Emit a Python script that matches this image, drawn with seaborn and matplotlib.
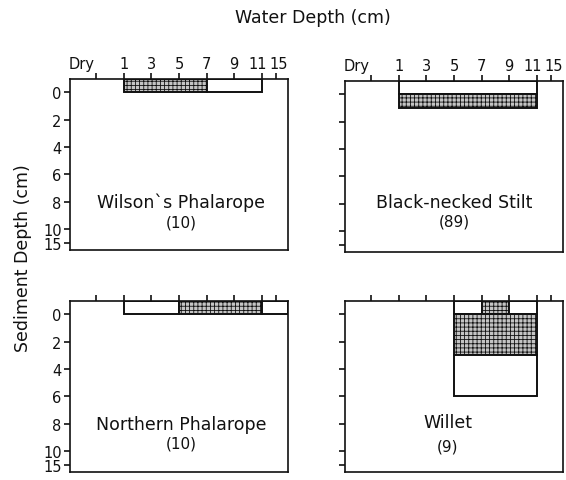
import matplotlib
matplotlib.use("Agg")
import matplotlib.pyplot as plt
from matplotlib.transforms import ScaledTranslation
import seaborn as sns

sns.set_theme(style="white")
plt.rcParams["font.family"] = ["DejaVu Sans"]
plt.rcParams["hatch.linewidth"] = 0.6

# ---- data ----
water_depths = ["Dry", "1", "3", "5", "7", "9", "11", "15"]
sediment_depths = ["0", "2", "4", "6", "8", "10", "15"]
species = ["Wilson`s Phalarope", "Black-necked Stilt", "Northern Phalarope", "Willet"]
sample_sizes = [10, 89, 10, 9]

# boxes: (water depth from, water depth to, sediment depth top, sediment depth bottom, shaded)
# None for sediment top = water column above sediment surface; None for water "to" = beyond 15
wilson_boxes = [("1", "7", None, 0, True), ("7", "11", None, 0, False)]
stilt_boxes = [("1", "11", None, 0, False), ("1", "11", 0, 1, True)]
northern_boxes = [("1", "5", None, 0, False), ("5", "11", None, 0, True), ("11", None, None, 0, False)]
willet_boxes = [("5", "7", None, 0, False), ("7", "9", None, 0, True), ("9", "11", None, 0, False),
                ("5", "11", 0, 3, True), ("5", "11", 3, 6, False)]
all_boxes = [wilson_boxes, stilt_boxes, northern_boxes, willet_boxes]

# ---- layout ----
x_pos = {lab: i for i, lab in enumerate(water_depths[:-1])}
x_pos["15"] = 6.5
y_pos = {"0": 0, "2": 2, "4": 4, "6": 6, "8": 8, "10": 10, "15": 11}
XLIM = (-0.95, 6.95)
YLIM = (11.5, -0.95)
label_shift_px = {"Dry": -15, "11": -4, "15": 3}
name_xy = [(0.51, 0.28), (0.50, 0.29), (0.51, 0.28), (0.47, 0.29)]
count_xy = [(0.51, 0.165), (0.50, 0.18), (0.51, 0.17), (0.47, 0.15)]

W, H = 566, 481
fig = plt.figure(figsize=(W / 100, H / 100), dpi=100)
panel_px = [(70, 80), (345, 82), (70, 302), (345, 302)]
pw, ph = 218, 171

ink = "#111111"
for k, (sp, n, boxes) in enumerate(zip(species, sample_sizes, all_boxes)):
    x0, top = panel_px[k]
    ax = fig.add_axes([x0 / W, (H - top - ph) / H, pw / W, ph / H])
    ax.set_xlim(*XLIM)
    ax.set_ylim(*YLIM)
    for s in ax.spines.values():
        s.set_visible(True)
        s.set_color(ink)
        s.set_linewidth(1.2)
    ax.xaxis.tick_top()
    ax.set_xticks([x_pos[w] for w in water_depths])
    ax.set_yticks([y_pos[d] for d in sediment_depths])
    ax.tick_params(axis="both", direction="out", length=4, width=1.2, color=ink,
                   labelsize=10.5, labelcolor=ink, pad=2)
    ax.tick_params(axis="x", top=True, bottom=False)
    ax.tick_params(axis="y", left=True, right=False)
    if k < 2:
        ax.set_xticklabels(water_depths)
        for lab in ax.get_xticklabels():
            dx = label_shift_px.get(lab.get_text(), 0)
            if dx:
                lab.set_transform(lab.get_transform() + ScaledTranslation(dx / 100, 0, fig.dpi_scale_trans))
    else:
        ax.set_xticklabels([])
    if k % 2 == 0:
        ax.set_yticklabels(sediment_depths)
    else:
        ax.set_yticklabels([])

    for (wa, wb, dt, db, shaded) in boxes:
        xa = x_pos[wa]
        xb = x_pos[wb] if wb is not None else XLIM[1]
        yt = YLIM[1] if dt is None else dt
        if shaded:
            ax.bar(xa, db - yt, bottom=yt, width=xb - xa, align="edge",
                   color="#c4c4c4", edgecolor=ink, linewidth=1.4, hatch="++++")
        else:
            ax.bar(xa, db - yt, bottom=yt, width=xb - xa, align="edge",
                   color="white", edgecolor=ink, linewidth=1.4)

    ax.text(*name_xy[k], sp, transform=ax.transAxes, ha="center", va="center",
            fontsize=12.5, color=ink)
    ax.text(*count_xy[k], f"({n})", transform=ax.transAxes, ha="center", va="center",
            fontsize=11, color=ink)

fig.text(313 / W, 1 - 18 / H, "Water Depth (cm)", ha="center", va="center",
         fontsize=12.5, color=ink)
fig.text(23 / W, 1 - 258 / H, "Sediment Depth (cm)", ha="center", va="center",
         rotation=90, fontsize=12.5, color=ink)

fig.savefig("out.png", dpi=100)
